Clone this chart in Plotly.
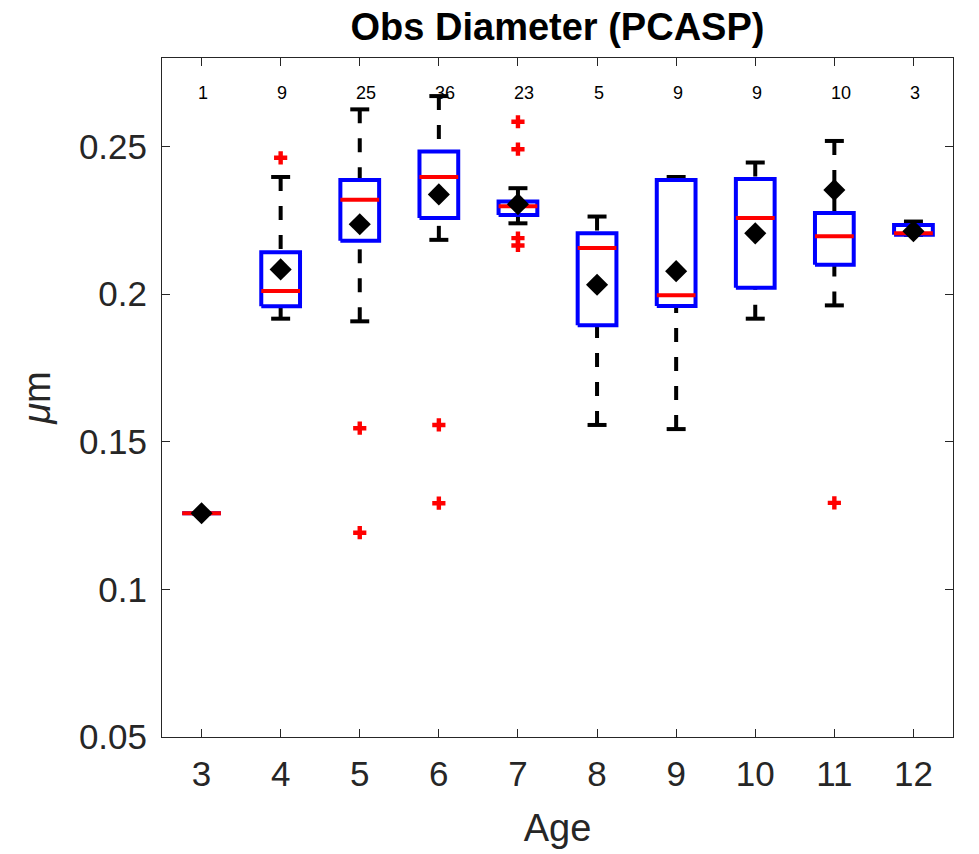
import plotly.graph_objects as go

# ---------------- data ----------------
ages = [3, 4, 5, 6, 7, 8, 9, 10, 11, 12]
counts = [1, 9, 25, 36, 23, 5, 9, 9, 10, 3]
q1 = [0.1258, 0.1959, 0.2181, 0.2258, 0.2268, 0.1895, 0.1960, 0.2022, 0.2100, 0.2201]
median = [0.1258, 0.2011, 0.2320, 0.2397, 0.2298, 0.2156, 0.1996, 0.2258, 0.2196, 0.2206]
q3 = [0.1258, 0.2142, 0.2387, 0.2483, 0.2314, 0.2206, 0.2387, 0.2390, 0.2275, 0.2234]
lower_whisker = [0.1258, 0.1917, 0.1908, 0.2184, 0.2240, 0.1557, 0.1543, 0.1917, 0.1962, 0.2201]
upper_whisker = [0.1258, 0.2397, 0.2626, 0.2671, 0.2359, 0.2263, 0.2397, 0.2446, 0.2519, 0.2246]
means = [0.1258, 0.2084, 0.2237, 0.2338, 0.2305, 0.2032, 0.2078, 0.2206, 0.2353, 0.2213]
outlier_age = [4, 5, 5, 6, 6, 7, 7, 7, 7, 11]
outlier_val = [0.2462, 0.1546, 0.1192, 0.1557, 0.1292, 0.2584, 0.2491, 0.2190, 0.2165, 0.1293]

# ---------------- style constants ----------------
BOX_HALF = 0.245
CAP_HALF = 0.12
LW = 4
COUNT_Y = 0.268
AXIS_COLOR = "#262626"
FONT = "Liberation Sans, Arial, Helvetica, sans-serif"

# ---------------- build geometry from the data ----------------
bx, by = [], []
mx, my = [], []
wx, wy = [], []
cx, cy = [], []
for a, lo, q_1, med, q_3, hi in zip(ages, lower_whisker, q1, median, q3, upper_whisker):
    bx += [a - BOX_HALF, a + BOX_HALF, a + BOX_HALF, a - BOX_HALF, a - BOX_HALF, None]
    by += [q_1, q_1, q_3, q_3, q_1, None]
    mx += [a - BOX_HALF, a + BOX_HALF, None]
    my += [med, med, None]
    if hi > q_3:
        wx += [a, a, None]
        wy += [hi, q_3, None]
    if lo < q_1:
        wx += [a, a, None]
        wy += [lo, q_1, None]
    cx += [a - CAP_HALF, a + CAP_HALF, None, a - CAP_HALF, a + CAP_HALF, None]
    cy += [hi, hi, None, lo, lo, None]

fig = go.Figure()
fig.add_trace(go.Scatter(x=wx, y=wy, mode="lines",
                         line=dict(color="black", width=LW, dash="14px,15px"),
                         hoverinfo="skip", showlegend=False))
fig.add_trace(go.Scatter(x=cx, y=cy, mode="lines",
                         line=dict(color="black", width=LW),
                         hoverinfo="skip", showlegend=False))
fig.add_trace(go.Scatter(x=bx, y=by, mode="lines",
                         line=dict(color="#0000FF", width=LW),
                         hoverinfo="skip", showlegend=False))
fig.add_trace(go.Scatter(x=mx, y=my, mode="lines",
                         line=dict(color="#FF0000", width=LW),
                         hoverinfo="skip", showlegend=False))
fig.add_trace(go.Scatter(x=outlier_age, y=outlier_val, mode="markers",
                         marker=dict(symbol="cross", size=11, color="#FF0000",
                                     line=dict(width=0)),
                         showlegend=False))
fig.add_trace(go.Scatter(x=ages, y=means, mode="markers",
                         marker=dict(symbol="diamond", size=17, color="black",
                                     line=dict(width=0)),
                         showlegend=False))

for a, n in zip(ages, counts):
    fig.add_annotation(x=a - 0.07, y=COUNT_Y, text=str(n), showarrow=False,
                       xanchor="left", yanchor="middle",
                       font=dict(size=18, color="black", family=FONT))

axis_common = dict(
    showline=True, linecolor=AXIS_COLOR, linewidth=1, mirror="ticks",
    ticks="inside", ticklen=8, tickwidth=1, tickcolor=AXIS_COLOR,
    showgrid=False, zeroline=False,
    tickfont=dict(size=35, color=AXIS_COLOR, family=FONT),
)

# plot area at 162..953 x 58..740 of the 979x854 page (body margin removed below)
fig.update_layout(
    width=979, height=854,
    margin=dict(l=162, r=26, t=58, b=114),
    paper_bgcolor="white", plot_bgcolor="white",
    font=dict(family=FONT),
    title=dict(text="<b>Obs Diameter (PCASP)</b>", x=0.5, xref="paper",
               xanchor="center", y=1 - 27 / 854, yanchor="middle",
               font=dict(size=38, color="black", family=FONT)),
    xaxis=dict(range=[2.5, 12.5], tickvals=ages, ticktext=[str(a) for a in ages],
               ticklabelstandoff=6,
               title=dict(text="Age", font=dict(size=38, color=AXIS_COLOR, family=FONT),
                          standoff=22),
               **axis_common),
    yaxis=dict(range=[0.05, 0.28], tickvals=[0.05, 0.1, 0.15, 0.2, 0.25],
               ticktext=["0.05", "0.1", "0.15", "0.2", "0.25"],
               ticklabelstandoff=7,
               title=dict(text="<i>μ</i>m", font=dict(size=38, color=AXIS_COLOR, family=FONT),
                          standoff=16),
               **axis_common),
)

fig.write_html("out.html", config={"displayModeBar": False},
               post_script="document.body.style.margin='0px';")
